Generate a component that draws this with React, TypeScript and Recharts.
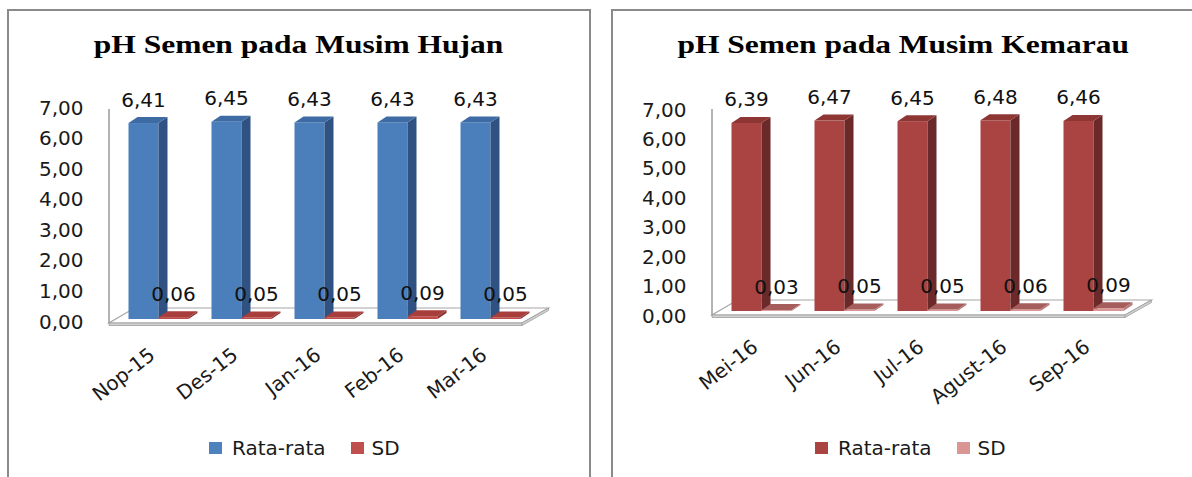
import React from "react";
import { BarChart, Bar, XAxis, YAxis, ReferenceLine, LabelList } from "recharts";

const hujanBulan = ["Nop-15", "Des-15", "Jan-16", "Feb-16", "Mar-16"];
const hujanRata = [6.41, 6.45, 6.43, 6.43, 6.43];
const hujanSD = [0.06, 0.05, 0.05, 0.09, 0.05];

const kemarauBulan = ["Mei-16", "Jun-16", "Jul-16", "Agust-16", "Sep-16"];
const kemarauRata = [6.39, 6.47, 6.45, 6.48, 6.46];
const kemarauSD = [0.03, 0.05, 0.05, 0.06, 0.09];

const yTicks = [0, 1, 2, 3, 4, 5, 6, 7];

const SANS = "'DejaVu Sans', sans-serif";

const fmt = (v: number) => v.toFixed(2).replace(".", ",");

type Colors = { front: string; top: string; side: string; legend: string };

const blue: Colors = { front: "#4b7fbc", top: "#3e6ba4", side: "#2f5282", legend: "#4f81bd" };
const red: Colors = { front: "#be4b48", top: "#a73e3b", side: "#8a302e", legend: "#c0504d" };
const maroon: Colors = { front: "#a94442", top: "#8e3634", side: "#6b2a29", legend: "#a94442" };
const pink: Colors = { front: "#d99694", top: "#a55e5c", side: "#b97977", legend: "#d99694" };

// depth of the bar sides
const DX = 9;
const DY = 6;

function make3D(c: Colors) {
  return (props: any) => {
    const { x, y, width, height } = props;
    if (x == null || y == null) return null;
    const h = Math.max(height, 0);
    return (
      <g>
        <rect x={x} y={y} width={width} height={h} fill={c.front} />
        <polygon
          points={`${x + width},${y} ${x + width + DX},${y - DY} ${x + width + DX},${y + h - DY} ${x + width},${y + h}`}
          fill={c.side}
        />
        <polygon
          points={`${x},${y} ${x + DX},${y - DY} ${x + width + DX},${y - DY} ${x + width},${y}`}
          fill={c.top}
        />
      </g>
    );
  };
}

function Floor(props: any) {
  const { x1, x2, y1 } = props;
  const fl = [x1 - 7.5, y1 + 4];
  const fr = [x2 - 9.5, y1 + 4];
  const br = [x2 + 17, y1 - 11];
  const bl = [x1 + 18, y1 - 11];
  const t = 2.5;
  return (
    <g>
      <polygon
        points={`${fl} ${fr} ${br} ${bl}`}
        fill="#ffffff"
        stroke="#a6a6a6"
        strokeWidth={1.2}
      />
      <polygon
        points={`${fl[0]},${fl[1]} ${fr[0]},${fr[1]} ${fr[0]},${fr[1] + t} ${fl[0]},${fl[1] + t}`}
        fill="#d0d0d0"
        stroke="#a0a0a0"
        strokeWidth={0.8}
      />
      <polygon
        points={`${fr[0]},${fr[1]} ${br[0]},${br[1]} ${br[0]},${br[1] + t} ${fr[0]},${fr[1] + t}`}
        fill="#d0d0d0"
        stroke="#a0a0a0"
        strokeWidth={0.8}
      />
    </g>
  );
}

function YTick(props: any) {
  const { x, y, payload, dy } = props;
  return (
    <text
      x={x - 33}
      y={y + dy}
      textAnchor="end"
      dominantBaseline="middle"
      fontFamily={SANS}
      fontSize={20}
      fill="#1a1a1a"
    >
      {fmt(payload.value)}
    </text>
  );
}

function XTick(props: any) {
  const { x, y, payload } = props;
  return (
    <text
      transform={`translate(${x - 5},${y + 34}) rotate(-38)`}
      textAnchor="end"
      dominantBaseline="middle"
      fontFamily={SANS}
      fontSize={20}
      fill="#1a1a1a"
    >
      {payload.value}
    </text>
  );
}

function ValueLabel(props: any) {
  const { x, y, width, value } = props;
  return (
    <text
      x={x + width / 2}
      y={y - 22}
      textAnchor="middle"
      dominantBaseline="middle"
      fontFamily={SANS}
      fontSize={20}
      fill="#111"
    >
      {fmt(value)}
    </text>
  );
}

type PanelProps = {
  title: string;
  bulan: string[];
  rata: number[];
  sd: number[];
  rataColors: Colors;
  sdColors: Colors;
  left: number;
  chartLeft: number;
  chartWidth: number;
  margin: { top: number; right: number; bottom: number; left: number };
  tickDy: number;
  legendLeft: number;
};

function Panel(p: PanelProps) {
  const data = p.bulan.map((b, i) => ({ bulan: b, rata: p.rata[i], sd: p.sd[i] }));
  return (
    <>
      <div
        style={{
          position: "absolute",
          left: p.left,
          top: 9,
          width: 584,
          height: 500,
          borderLeft: "2px solid #8a8a8a",
          borderTop: "2px solid #8a8a8a",
          borderRight: "2px solid #8a8a8a",
          boxSizing: "border-box",
        }}
      />
      <div
        style={{
          position: "absolute",
          left: p.left,
          top: 32,
          width: 584,
          textAlign: "center",
          fontFamily: "'Liberation Serif', serif",
          fontWeight: "bold",
          fontSize: 25,
          lineHeight: "25px",
          color: "#000",
          whiteSpace: "nowrap",
        }}
      >
        <span style={{ display: "inline-block", transform: "scaleX(1.26)" }}>{p.title}</span>
      </div>
      <div style={{ position: "absolute", left: p.chartLeft, top: 0 }}>
        <BarChart
          width={p.chartWidth}
          height={477}
          data={data}
          margin={p.margin}
          barSize={30}
          barGap={0}
        >
          <ReferenceLine y={0} shape={Floor} zIndex={-10} ifOverflow="visible" />
          <XAxis
            dataKey="bulan"
            interval={0}
            axisLine={false}
            tickLine={false}
            tickSize={0}
            tickMargin={0}
            height={30}
            tick={<XTick />}
          />
          <YAxis
            domain={[0, 7]}
            ticks={yTicks}
            width={60}
            tickLine={false}
            tickSize={0}
            tickMargin={0}
            axisLine={{ stroke: "#9a9a9a", strokeWidth: 1.5, transform: "translate(-7.5,4)" }}
            tick={<YTick dy={p.tickDy} />}
          />
          <Bar dataKey="rata" name="Rata-rata" fill={p.rataColors.front} shape={make3D(p.rataColors)} isAnimationActive={false}>
            <LabelList dataKey="rata" content={<ValueLabel />} />
          </Bar>
          <Bar dataKey="sd" name="SD" fill={p.sdColors.front} shape={make3D(p.sdColors)} isAnimationActive={false}>
            <LabelList dataKey="sd" content={<ValueLabel />} />
          </Bar>
        </BarChart>
      </div>
      <div
        style={{
          position: "absolute",
          left: p.legendLeft,
          top: 436,
          display: "flex",
          alignItems: "center",
          fontFamily: SANS,
          fontSize: 20,
          color: "#1a1a1a",
          whiteSpace: "nowrap",
        }}
      >
        <span style={{ width: 13, height: 12, background: p.rataColors.legend, marginRight: 10 }} />
        <span style={{ marginRight: 25 }}>Rata-rata</span>
        <span style={{ width: 13, height: 12, background: p.sdColors.legend, marginRight: 8 }} />
        <span>SD</span>
      </div>
    </>
  );
}

export default function App() {
  return (
    <div
      style={{
        position: "fixed",
        left: 0,
        top: 0,
        width: 1192,
        height: 477,
        overflow: "hidden",
        background: "#fff",
      }}
    >
      <Panel
        title="pH Semen pada Musim Hujan"
        bulan={hujanBulan}
        rata={hujanRata}
        sd={hujanSD}
        rataColors={blue}
        sdColors={red}
        left={7}
        chartLeft={0}
        chartWidth={600}
        margin={{ top: 105, right: 68.5, bottom: 128, left: 56.5 }}
        tickDy={4}
        legendLeft={209}
      />
      <Panel
        title="pH Semen pada Musim Kemarau"
        bulan={kemarauBulan}
        rata={kemarauRata}
        sd={kemarauSD}
        rataColors={maroon}
        sdColors={pink}
        left={611}
        chartLeft={600}
        chartWidth={592}
        margin={{ top: 105, right: 57.5, bottom: 136, left: 59.5 }}
        tickDy={6}
        legendLeft={815}
      />
    </div>
  );
}
